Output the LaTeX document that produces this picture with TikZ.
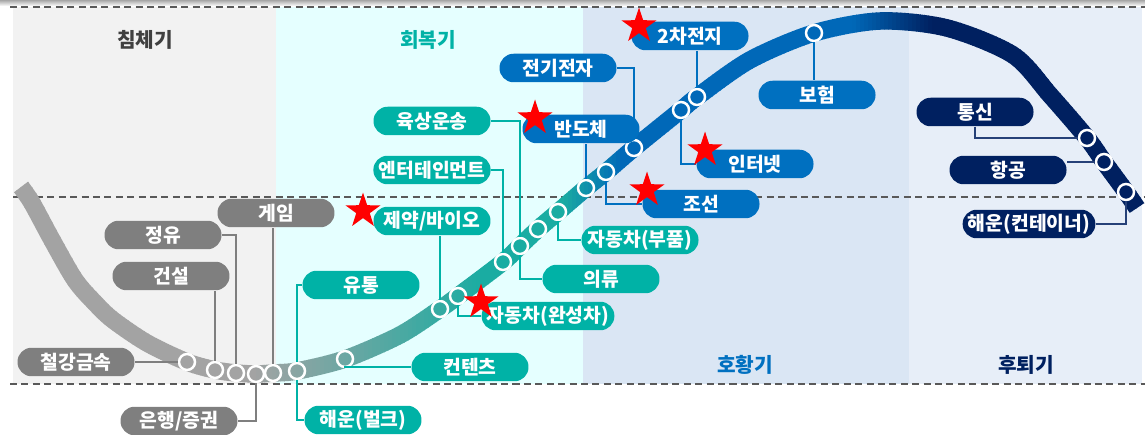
\documentclass[tikz,border=0pt]{standalone}
\usepackage{fontspec}
\setmainfont{Noto Sans CJK KR}
\usepackage{xcolor}
\usepackage{tikz}
\usetikzlibrary{shapes.geometric, positioning, calc}

\definecolor{grayc}{HTML}{A3A3A3}
\definecolor{tealc}{HTML}{1AACA2}
\definecolor{bluec}{HTML}{0068B8}
\definecolor{navyc}{HTML}{002060}
\definecolor{pgray}{HTML}{7F7F7F}
\definecolor{pteal}{HTML}{00B2A6}
\definecolor{pblue}{HTML}{0070C0}
\definecolor{pnavy}{HTML}{002060}
\definecolor{bgdown}{HTML}{F2F2F2}
\definecolor{bgrec}{HTML}{E5FFFF}
\definecolor{bgboom}{HTML}{DAE6F4}
\definecolor{bgfall}{HTML}{E7EEF8}

\tikzset{
  pill/.style  = {rectangle, rounded corners=0.28cm, minimum width=2.34cm,
                  minimum height=0.57cm, inner xsep=3pt, inner ysep=0pt,
                  text=white, font=\bfseries\fontsize{11}{13}\selectfont},
  pillg/.style = {pill, fill=pgray},
  pillt/.style = {pill, fill=pteal},
  pillb/.style = {pill, fill=pblue},
  pilln/.style = {pill, fill=pnavy},
  dot/.style   = {circle, draw=white, line width=1.4pt,
                  minimum size=0.32cm, inner sep=0pt},
  lkg/.style   = {line width=0.9pt, draw=pgray},
  lkt/.style   = {line width=0.9pt, draw=pteal},
  lkb/.style   = {line width=0.9pt, draw=pblue},
  lkn/.style   = {line width=0.9pt, draw=pnavy!85},
  sep/.style   = {dashed, dash pattern=on 4pt off 2.5pt, line width=0.85pt, draw=black!65},
  ttl/.style   = {font=\bfseries\fontsize{11.5}{14}\selectfont},
  hot/.style   = {star, star points=5, star point ratio=2.6, fill=red,
                  minimum size=0.74cm, inner sep=0pt},
  band/.style  = {line width=0.35cm, draw=bandc},
}

% centre line of the cycle curve (pixel units)
\newcommand\cyclepath{plot[smooth] coordinates {
  (21,187) (32,203) (52,240) (75,280) (95,303) (113,320) (147,343)
  (187,362) (215,370) (236,373) (256,374) (273,373) (297,371) (345,359)
  (400,335) (440,309) (458,296) (503,262) (520,246) (538,229) (558,212)
  (586,188) (606,172) (634,148) (681,110) (697,97) (750,60) (814,33)
  (880,21) (947,28) (1013,55) (1050,95) (1087,138) (1104,162) (1126,192)
  (1137,208)}}

\begin{document}
\begin{tikzpicture}[x=0.02cm, y=-0.02cm]

  \useasboundingbox (0,0) rectangle (1145,435);

  % ── Phase panels ────────────────────────────────────────────────
  \shade[top color=black!35, bottom color=white] (0,0) rectangle (1145,6);
  \fill[bgdown] (13,7) rectangle (276,384);
  \fill[bgrec]  (276,7) rectangle (583,384);
  \fill[bgboom] (583,7) rectangle (909,384);
  \fill[bgfall] (909,7) rectangle (1142,384);

  \draw[sep] (10,7) -- (1145,7);
  \draw[sep] (13,197) -- (1145,197);
  \draw[sep] (10,384) -- (1145,384);

  \node[ttl, text=black!75] (tDown) at (145,40)  {침체기};
  \node[ttl, text=pteal]    (tRec)  at (428,40)  {회복기};
  \node[ttl, text=pblue]    (tBoom) at (745,365) {호황기};
  \node[ttl, text=pnavy]    (tFall) at (1026,365) {후퇴기};

  % ── Cycle curve, coloured strip by strip ───────────────────────
  \foreach \x in {0,4,...,1144}{
    \ifnum\x<250 \colorlet{bandc}{grayc}%
    \else\ifnum\x<480 \pgfmathtruncatemacro\p{(\x-250)/2.3}\colorlet{bandc}{tealc!\p!grayc}%
    \else\ifnum\x<560 \colorlet{bandc}{tealc}%
    \else\ifnum\x<620 \pgfmathtruncatemacro\p{(\x-560)/0.6}\colorlet{bandc}{bluec!\p!tealc}%
    \else\ifnum\x<850 \colorlet{bandc}{bluec}%
    \else\ifnum\x<930 \pgfmathtruncatemacro\p{(\x-850)/0.8}\colorlet{bandc}{navyc!\p!bluec}%
    \else \colorlet{bandc}{navyc}\fi\fi\fi\fi\fi\fi
    \begin{scope}
      \clip (\x,0) rectangle ({\x+4.6},435);
      \draw[band] \cyclepath;
    \end{scope}
  }

  % ── Markers on the curve ────────────────────────────────────────
  \node[dot] (c1)  at (187,362) {};
  \node[dot] (c2)  at (215,370) {};
  \node[dot] (c3)  at (236,373) {};
  \node[dot] (c4)  at (256,374) {};
  \node[dot] (c5)  at (273,373) {};
  \node[dot] (c6)  at (297,371) {};
  \node[dot] (c7)  at (345,359) {};
  \node[dot] (c8)  at (440,309) {};
  \node[dot] (c9)  at (458,296) {};
  \node[dot] (c10) at (503,262) {};
  \node[dot] (c11) at (520,246) {};
  \node[dot] (c12) at (538,229) {};
  \node[dot] (c13) at (558,212) {};
  \node[dot] (c14) at (586,188) {};
  \node[dot] (c15) at (606,172) {};
  \node[dot] (c16) at (634,148) {};
  \node[dot] (c17) at (681,110) {};
  \node[dot] (c18) at (697,97)  {};
  \node[dot] (c19) at (814,33)  {};
  \node[dot] (c20) at (1087,138) {};
  \node[dot] (c21) at (1104,162) {};
  \node[dot] (c22) at (1126,192) {};

  % ── Sector labels ──────────────────────────────────────────────
  \node[pillg] (g1) at (76,362)  {철강금속};
  \node[pillg] (g2) at (171,276) {건설};
  \node[pillg] (g3) at (163,235) {정유};
  \node[pillg] (g4) at (276,213) {게임};
  \node[pillg] (g5) at (179,421) {은행/증권};

  \node[pillt] (t1) at (363,420) {해운(벌크)};
  \node[pillt] (t2) at (361,285) {유통};
  \node[pillt] (t3) at (470,367) {컨텐츠};
  \node[pillt] (t4) at (432,221) {제약/바이오};
  \node[pillt] (t5) at (548,316) {자동차(완성차)};
  \node[pillt] (t6) at (432,170) {엔터테인먼트};
  \node[pillt] (t7) at (432,121) {육상운송};
  \node[pillt] (t8) at (601,279) {의류};
  \node[pillt] (t9) at (640,240) {자동차(부품)};

  \node[pillb] (b1) at (581,129) {반도체};
  \node[pillb] (b2) at (701,204) {조선};
  \node[pillb] (b3) at (558,68)  {전기전자};
  \node[pillb] (b4) at (755,164) {인터넷};
  \node[pillb] (b5) at (690,36)  {2차전지};
  \node[pillb] (b6) at (817,95)  {보험};

  \node[pilln] (n1) at (975,112)  {통신};
  \node[pilln] (n2) at (1008,170) {항공};
  \node[pilln] (n3) at (1029,224) {해운(컨테이너)};

  % ── Leader lines ───────────────────────────────────────────────
  \draw[lkg] (c1) -- (c1 -| g1.east);
  \draw[lkg] (c2) -- (c2 |- g2.south);
  \draw[lkg] (g3.east) -| (c3);
  \draw[lkg] (c5) -- (c5 |- g4.south);
  \draw[lkg] (c4) |- (g5.east);

  \draw[lkt] (c6) |- (t1.west);
  \draw[lkt] (t2.west) -| (c6);
  \draw[lkt] (c7) |- (t3.west);
  \draw[lkt] (c8) -- (c8 |- t4.south);
  \draw[lkt] (c9) |- (t5.west);
  \draw[lkt] (t6.east) -| (c10);
  \draw[lkt] (t7.east) -| (c11);
  \draw[lkt] (c11) |- (t8.west);
  \draw[lkt] (c13) |- (t9.west);

  \draw[lkb] (c14) -- (c14 |- b1.south);
  \draw[lkb] (c15) |- (b2.west);
  \draw[lkb] (b3.east) -| (c16);
  \draw[lkb] (c17) |- (b4.west);
  \draw[lkb] (c18) -- (c18 |- b5.south);
  \draw[lkb] (c19) -- (c19 |- b6.north);

  \draw[lkn] (n1.south) |- (c20);
  \draw[lkn] (c21) -- (c21 -| n2.east);
  \draw[lkn] (n3.east) -| (c22);

  % ── Highlight stars ─────────────────────────────────────────────
  \node[hot] (s1) at (639,26)  {};
  \node[hot] (s2) at (535,118) {};
  \node[hot] (s3) at (363,211) {};
  \node[hot] (s4) at (705,150) {};
  \node[hot] (s5) at (647,190) {};
  \node[hot] (s6) at (481,302) {};

\end{tikzpicture}
\end{document}
